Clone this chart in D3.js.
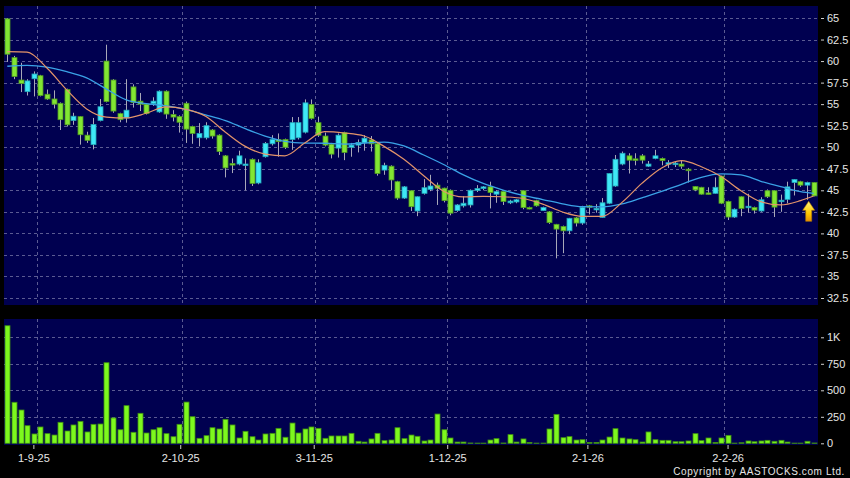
<!DOCTYPE html>
<html>
<head>
<meta charset="utf-8">
<script src="https://d3js.org/d3.v7.min.js"></script>
<style>
  body { margin: 0; background: #000; }
  svg { display: block; font-family: "Liberation Sans", Arial, sans-serif; }
</style>
</head>
<body>
<svg id="chart" width="850" height="478"></svg>
<script>
// daily candles, 25-8-25 .. mid Feb 26
var open = [64.9,60.4,57.8,56.45,57.95,58.3,56.15,55.6,55.1,56.7,53.1,53.55,51.4,50.3,53.1,60.0,57.8,53.9,53.4,57.0,
  55.35,55.0,55.05,54.1,56.5,53.8,53.55,55.1,52.4,51.1,51.1,52.0,51.4,49.0,48.1,48.05,48.0,48.6,45.85,48.9,
  50.4,50.9,50.9,50.9,51.1,51.75,54.95,52.85,51.3,50.35,49.9,51.7,50.0,50.25,50.5,50.85,50.4,47.35,47.8,46.0,
  44.1,44.95,42.6,44.65,45.1,45.6,45.25,45.0,42.65,43.2,43.3,45.0,45.2,45.4,44.55,44.85,43.55,43.65,44.95,43.0,
  43.8,42.65,42.5,41.05,40.8,40.3,41.8,41.2,43.2,42.8,41.85,43.5,45.5,48.05,49.0,48.65,49.0,47.8,48.7,48.7,
  48.05,48.0,48.05,47.45,45.45,45.35,44.7,44.65,46.65,43.7,41.9,44.25,43.05,43.0,42.6,44.95,44.95,43.75,43.95,45.9,
  46.0,45.6,45.9];
var high = [65.0,60.6,59.8,57.9,58.8,58.4,56.7,56.6,55.2,56.8,54.0,53.6,51.8,53.4,55.6,61.9,57.9,54.0,57.9,57.3,
  56.3,55.1,55.8,56.6,56.6,54.3,53.7,55.3,52.5,52.8,52.9,52.1,51.5,49.1,48.7,49.6,48.7,48.7,48.6,50.6,
  51.4,51.6,51.0,53.5,53.5,55.55,55.55,53.55,51.7,50.5,51.6,51.8,50.5,50.9,51.4,51.3,50.5,48.2,47.9,46.1,
  45.5,45.0,44.3,46.3,46.8,45.9,45.3,45.1,43.4,44.3,45.1,45.6,45.5,46.0,45.0,44.9,43.9,44.0,45.0,43.1,
  43.9,43.1,42.6,41.1,40.9,41.8,41.9,43.2,43.3,43.4,44.1,47.0,49.1,49.5,49.3,49.3,49.2,48.4,49.7,48.8,
  48.5,48.4,48.5,47.6,45.5,45.4,45.35,46.5,46.7,43.8,42.9,44.3,44.6,43.1,44.2,45.1,45.0,44.5,46.0,46.3,
  46.1,46.0,45.95];
var low = [59.9,57.9,56.4,56.0,55.9,55.9,55.5,54.5,52.0,52.4,52.6,50.3,50.5,49.75,53.0,55.2,54.0,52.9,52.85,54.6,
  54.2,53.8,54.8,54.0,53.3,53.0,51.7,50.5,50.4,50.1,50.9,51.0,49.1,46.5,47.0,47.9,45.0,45.5,45.7,48.8,
  50.2,48.9,49.8,49.7,50.9,51.6,53.2,51.2,50.1,48.7,48.8,48.5,48.9,49.4,49.6,49.5,46.7,46.8,45.0,43.9,
  44.0,42.6,42.0,44.5,44.9,43.3,43.6,42.1,42.5,43.0,43.0,44.8,45.0,42.9,43.55,43.3,43.4,43.5,42.8,42.8,
  43.1,42.6,41.1,37.1,37.7,39.9,40.8,41.0,42.2,42.4,41.8,43.4,45.4,47.9,46.95,47.9,48.1,47.7,48.6,47.9,
  47.6,47.7,47.5,45.9,44.9,44.5,44.5,44.6,43.4,41.55,41.8,42.0,42.4,42.3,42.5,44.1,41.9,42.5,43.5,44.4,
  45.4,43.9,44.3];
var close = [60.8,58.2,57.4,57.7,58.5,56.0,55.6,55.0,53.2,52.6,53.6,51.45,50.8,52.65,54.7,55.3,54.2,53.2,54.3,55.2,
  55.0,53.9,55.35,56.5,53.85,53.5,52.9,52.1,51.6,51.6,52.5,51.3,49.5,47.6,48.0,49.0,48.05,45.8,48.2,50.45,
  50.9,50.65,50.0,52.85,52.85,55.15,53.35,51.4,50.25,49.2,51.4,49.4,50.25,50.55,51.05,50.4,46.95,47.9,46.2,44.1,
  45.4,43.1,44.25,45.3,45.5,45.25,43.8,42.35,43.3,43.5,45.0,45.2,45.4,44.75,44.85,43.7,43.75,43.9,43.0,42.85,
  43.2,43.0,41.25,40.5,40.3,41.75,41.2,43.0,43.1,42.9,43.55,46.95,48.6,49.3,48.5,48.55,48.5,48.05,49.0,48.45,
  48.2,48.15,47.8,47.35,45.05,44.55,44.55,45.35,43.5,41.9,42.8,42.9,43.15,42.7,43.9,44.25,43.05,43.85,45.4,46.25,
  45.6,45.9,44.35];
// volume, thousands
var volume = [1109,387,314,166,88,154,91,78,198,116,173,207,107,179,182,760,239,128,355,104,
  283,97,128,147,91,62,179,389,251,47,72,147,135,226,173,50,113,62,31,88,
  94,141,57,191,97,135,154,141,47,69,69,69,94,19,12,41,94,25,31,147,
  44,78,66,22,31,276,128,50,12,12,3,2,2,31,44,3,82,12,41,8,
  2,2,135,273,53,63,31,34,8,8,31,59,138,50,41,34,12,107,34,28,
  28,15,15,22,91,25,50,8,50,75,2,5,22,15,22,28,19,28,12,2,
  2,19,3];

var maIdx = [0,3,6,9,12,15,18,21,24,27,30,33,36,39,42,45,48,51,54,57,60,63,66,69,72,75,78,81,84,87,90,93,96,99,102,105,108,111,114,117,120,122];
var maShort = [61.1,61.05,59.2,56.65,54.45,53.5,53.4,53.94,54.68,54.4,53.6,51.75,50.1,49.2,49.0,50.5,51.8,51.65,51.3,50.1,
  48.6,46.7,44.9,44.24,44.3,44.25,44.05,43.4,42.48,41.98,41.98,43.6,45.8,47.6,48.44,47.74,46.6,44.95,43.68,43.3,43.8,44.34];
var maLong = [59.4,59.5,59.3,58.77,58.05,56.75,55.5,55.05,54.8,54.4,53.77,53.1,52.15,51.3,50.68,50.47,50.46,50.36,50.48,50.6,
  50.15,49.1,48.0,46.8,45.8,45.03,44.4,43.93,43.43,43.1,43.08,43.42,44.13,44.87,45.7,46.51,46.9,46.78,46.05,45.42,44.84,44.65];

var priceTicks = [32.5,35,37.5,40,42.5,45,47.5,50,52.5,55,57.5,60,62.5,65];
var volTicks = [0,250,500,750,1000];
var volLabels = ["0","250","500","750","1K"];
var tickIdx = [5,27,47,67,88,109];
var tickLabels = ["1-9-25","2-10-25","3-11-25","1-12-25","2-1-26","2-2-26"];

var svg = d3.select("#chart");
var n = close.length;

var x = d3.scaleBand().domain(d3.range(n)).range([4, 817]);
var xt = d3.scaleLinear().domain([0, n]).range([0, 821]);
var y = d3.scaleLinear().domain([32.5, 65]).range([298, 18]);
var yv = d3.scaleLinear().domain([0, 1000]).range([443.3, 337.3]);
var cx = function (i) { return x(i) + x.bandwidth() / 2; };

svg.append("rect").attr("width", 850).attr("height", 478).attr("fill", "#000");

var defs = svg.append("defs");
var grad = defs.append("linearGradient").attr("id", "arrowGrad")
  .attr("x1", 0).attr("y1", 0).attr("x2", 0).attr("y2", 1);
grad.append("stop").attr("offset", "0%").attr("stop-color", "#fff27a");
grad.append("stop").attr("offset", "60%").attr("stop-color", "#ffc800");
grad.append("stop").attr("offset", "100%").attr("stop-color", "#e89000");

function panel(top, bottom) {
  svg.append("rect").attr("x", 4).attr("y", top)
    .attr("width", 814).attr("height", bottom - top).attr("fill", "#000050");
}
panel(6, 305);
panel(319, 445);

var grid = svg.append("g").attr("stroke", "#5b5b92").attr("stroke-dasharray", "3,3").attr("stroke-width", 1);
grid.selectAll("line.hp").data(priceTicks).enter().append("line")
  .attr("x1", 4).attr("x2", 818)
  .attr("y1", function (d) { return Math.round(y(d)) + 0.5; })
  .attr("y2", function (d) { return Math.round(y(d)) + 0.5; });
grid.selectAll("line.hv").data(volTicks.slice(1)).enter().append("line")
  .attr("x1", 4).attr("x2", 818)
  .attr("y1", function (d) { return Math.round(yv(d)) + 0.5; })
  .attr("y2", function (d) { return Math.round(yv(d)) + 0.5; });
[[6, 305], [319, 445]].forEach(function (p) {
  grid.append("g").selectAll("line").data(tickIdx).enter().append("line")
    .attr("x1", function (d) { return Math.round(x(d)) + 0.5; })
    .attr("x2", function (d) { return Math.round(x(d)) + 0.5; })
    .attr("y1", p[0]).attr("y2", p[1]);
});

// axes
function style(g) {
  g.select(".domain").remove();
  g.selectAll(".tick line").attr("stroke", "#cfcfcf");
  g.selectAll(".tick text").attr("fill", "#e6e6e6").attr("font-size", 11)
    .attr("font-family", "'Liberation Sans', Arial, sans-serif");
}
svg.append("g").attr("transform", "translate(821,0)")
  .call(d3.axisRight(y).tickValues(priceTicks).tickSize(3).tickPadding(3).tickFormat(d3.format("")))
  .call(style);
svg.append("g").attr("transform", "translate(821,0)")
  .call(d3.axisRight(yv).tickValues(volTicks).tickSize(3).tickPadding(3)
    .tickFormat(function (d, i) { return volLabels[i]; }))
  .call(style);
svg.append("g").attr("transform", "translate(0,445)")
  .call(d3.axisBottom(xt).tickValues(tickIdx).tickSize(4).tickPadding(5)
    .tickFormat(function (d, i) { return tickLabels[i]; }))
  .call(style);

// candles
var bw = 5;
var cg = svg.append("g");
cg.selectAll("line").data(d3.range(n)).enter().append("line")
  .attr("x1", function (i) { return Math.round(cx(i)) + 0.5; })
  .attr("x2", function (i) { return Math.round(cx(i)) + 0.5; })
  .attr("y1", function (i) { return y(high[i]); })
  .attr("y2", function (i) { return y(low[i]); })
  .attr("stroke", "#a8a8b8").attr("stroke-width", 1);
cg.selectAll("rect").data(d3.range(n)).enter().append("rect")
  .attr("x", function (i) { return Math.round(cx(i)) + 0.5 - bw / 2; })
  .attr("width", bw)
  .attr("y", function (i) { return y(Math.max(open[i], close[i])); })
  .attr("height", function (i) { return Math.max(1.5, Math.abs(y(open[i]) - y(close[i]))); })
  .attr("fill", function (i) { return close[i] >= open[i] ? "#3fe8f6" : "#82e633"; })
  .attr("stroke", function (i) { return close[i] >= open[i] ? "#22a6b8" : "#4f9a20"; })
  .attr("stroke-width", 0.8);

// moving averages
var line = function (vals) {
  return d3.line()
    .x(function (d, k) { return cx(maIdx[k]); })
    .y(function (d) { return y(d); })
    .curve(d3.curveMonotoneX)(vals);
};
svg.append("path").attr("d", line(maLong)).attr("fill", "none")
  .attr("stroke", "#3aa2e6").attr("stroke-width", 1.3);
svg.append("path").attr("d", line(maShort)).attr("fill", "none")
  .attr("stroke", "#e4946a").attr("stroke-width", 1.2);

// volume bars
svg.append("g").selectAll("rect").data(d3.range(n)).enter().append("rect")
  .attr("x", function (i) { return Math.round(cx(i)) + 0.5 - bw / 2; })
  .attr("width", bw)
  .attr("y", function (i) { return yv(volume[i]); })
  .attr("height", function (i) { return yv(0) - yv(volume[i]); })
  .attr("fill", "#7df81e").attr("stroke", "#3f8f12").attr("stroke-width", 0.8);

// marker under the last session
var ax = cx(n - 1) - 5, ay = y(low[n - 1]) + 5;
svg.append("path")
  .attr("d", "M" + ax + "," + ay + " L" + (ax + 6) + "," + (ay + 9) + " L" + (ax + 3) + "," + (ay + 9) +
    " L" + (ax + 3) + "," + (ay + 20) + " L" + (ax - 3) + "," + (ay + 20) + " L" + (ax - 3) + "," + (ay + 9) +
    " L" + (ax - 6) + "," + (ay + 9) + " Z")
  .attr("fill", "url(#arrowGrad)").attr("stroke", "#b07800").attr("stroke-width", 0.6);

svg.append("text").attr("x", 845).attr("y", 475).attr("text-anchor", "end")
  .attr("fill", "#e6e6e6").attr("font-size", 10).attr("letter-spacing", "0.6px")
  .text("Copyright by AASTOCKS.com Ltd.");
</script>
</body>
</html>
